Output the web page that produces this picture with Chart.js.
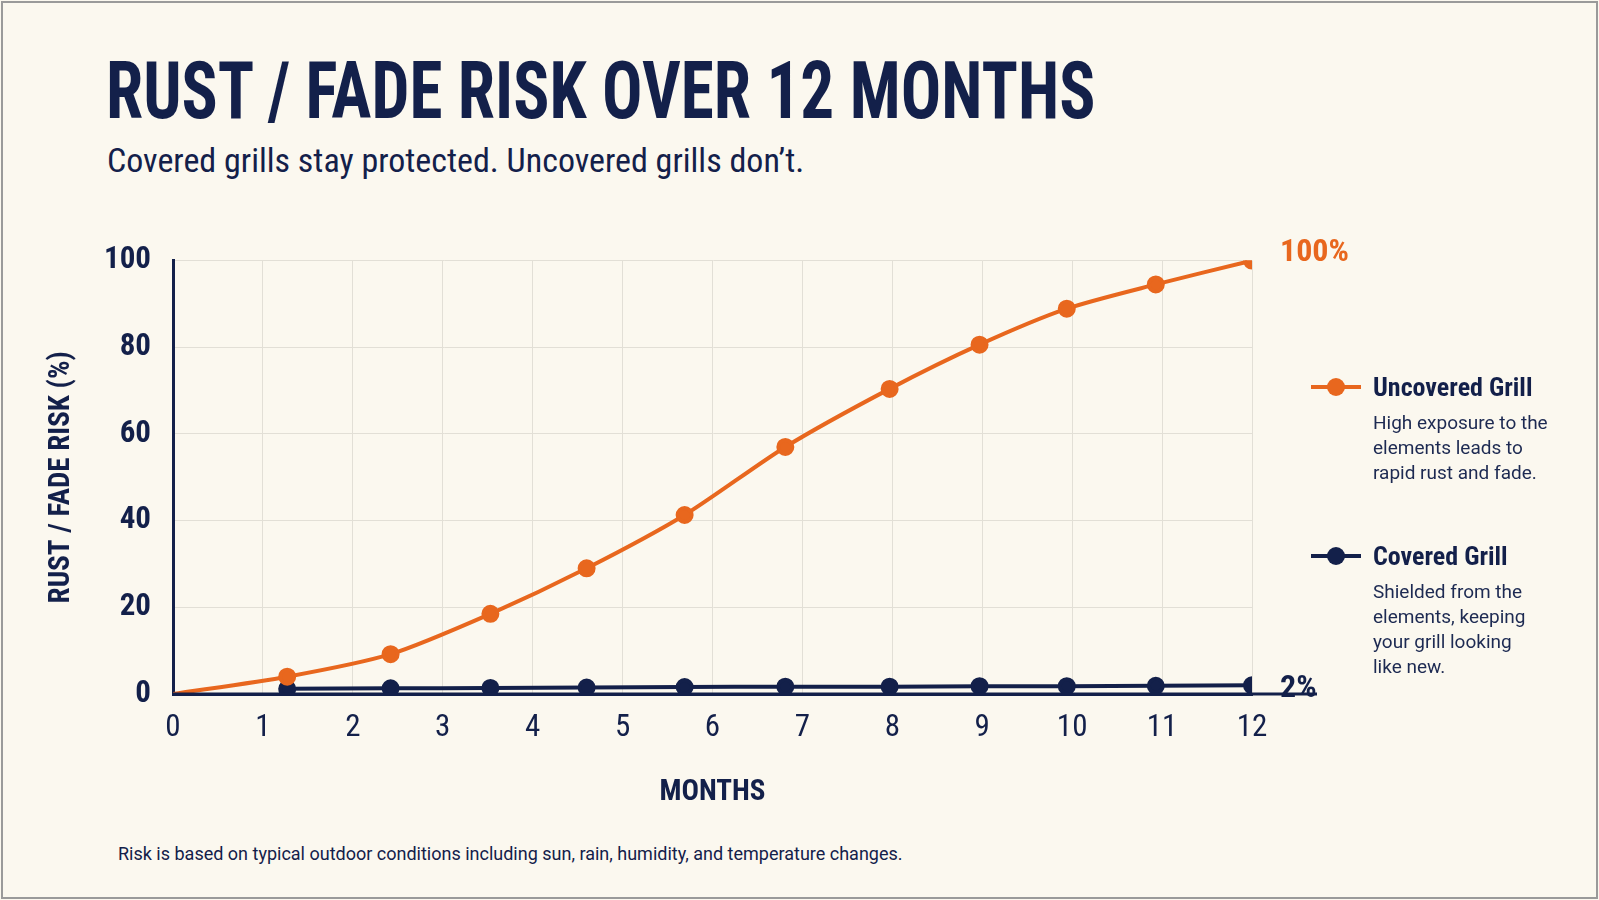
<!DOCTYPE html>
<html>
<head>
<meta charset="utf-8">
<script src="https://cdn.jsdelivr.net/npm/chart.js@4.4.0/dist/chart.umd.min.js"></script>
<style>
  html, body { margin: 0; padding: 0; }
  body { width: 1599px; height: 900px; background: #fbf8ef; position: relative; overflow: hidden;
         font-family: "Roboto Condensed", "Roboto", sans-serif; font-stretch: condensed; color: #13204a; }
  .frame { position: absolute; left: 1px; top: 1px; right: 1px; bottom: 1px; border: 2px solid #9a9a9a; }
  h1 { position: absolute; left: 106px; top: 44px; margin: 0; font-size: 80px; font-weight: bold;
       transform: scaleX(0.84); transform-origin: left top; white-space: nowrap; }
  .sub { position: absolute; left: 107px; top: 140px; font-size: 34px; }
  #wrap { position: absolute; left: 40px; top: 220px; width: 1360px; height: 594px; }
  .leg { position: absolute; left: 1311px; }
  .leg .name { font-size: 26px; font-weight: bold; display: flex; align-items: center; }
  .leg .sw { width: 50px; height: 4px; position: relative; margin-right: 12px; }
  .leg .sw i { position: absolute; left: 16px; top: -7px; width: 18px; height: 18px; border-radius: 50%; }
  .leg .desc { margin-left: 62px; margin-top: 8px; font-size: 19px; line-height: 25px; color: #1d2a52; font-stretch: normal; font-family: "Roboto", sans-serif; }
  .note { position: absolute; left: 118px; top: 843px; font-size: 18px; font-family: "Roboto", sans-serif; font-stretch: normal; }
</style>
</head>
<body>
<div class="frame"></div>
<h1>RUST / FADE RISK OVER 12 MONTHS</h1>
<div class="sub">Covered grills stay protected. Uncovered grills don’t.</div>
<div id="wrap"><canvas id="c"></canvas></div>
<div class="leg" style="top:372px">
  <div class="name"><span class="sw" style="background:#e8671e"><i style="background:#e8671e"></i></span>Uncovered Grill</div>
  <div class="desc">High exposure to the<br>elements leads to<br>rapid rust and fade.</div>
</div>
<div class="leg" style="top:541px">
  <div class="name"><span class="sw" style="background:#13204a"><i style="background:#13204a"></i></span>Covered Grill</div>
  <div class="desc">Shielded from the<br>elements, keeping<br>your grill looking<br>like new.</div>
</div>
<div class="note">Risk is based on typical outdoor conditions including sun, rain, humidity, and temperature changes.</div>
<script>
const uncoveredX = [0, 1.27, 2.42, 3.53, 4.6, 5.69, 6.81, 7.97, 8.97, 9.94, 10.93, 12];
const uncoveredY = [0, 4, 9.2, 18.5, 29, 41.3, 57, 70.4, 80.6, 88.9, 94.5, 100];
const coveredX = [1.27, 2.42, 3.53, 4.6, 5.69, 6.81, 7.97, 8.97, 9.94, 10.93, 12];
const coveredY = [1.2, 1.3, 1.4, 1.5, 1.6, 1.7, 1.7, 1.8, 1.8, 1.9, 2];
const yTicks = [0, 20, 40, 60, 80, 100];
const endLabels = ["100%", "2%"];

const orange = "#e8671e", navy = "#13204a";
const cond = "'Roboto Condensed', 'Roboto', sans-serif";

const endLabelPlugin = {
  id: "endLabels",
  afterDatasetsDraw(chart) {
    const ctx = chart.ctx;
    ctx.save();
    ctx.font = "bold 32px " + cond;
    ctx.textBaseline = "middle";
    chart.data.datasets.forEach((ds, i) => {
      const meta = chart.getDatasetMeta(i);
      const p = meta.data[meta.data.length - 1];
      ctx.fillStyle = ds.borderColor;
      ctx.fillText(endLabels[i], p.x + 28, p.y - (i === 0 ? 8 : -4));
    });
    const a = chart.chartArea;
    ctx.strokeStyle = navy; ctx.lineWidth = 3;
    ctx.beginPath(); ctx.moveTo(a.left, a.bottom); ctx.lineTo(a.right + 65, a.bottom); ctx.stroke();
    ctx.restore();
  }
};

new Chart(document.getElementById("c"), {
  type: "line",
  data: {
    datasets: [
      { label: "Uncovered Grill", data: uncoveredX.map((x, i) => ({ x, y: uncoveredY[i] })),
        borderColor: orange, backgroundColor: orange, borderWidth: 4, tension: 0.25,
        pointRadius: uncoveredX.map(x => x === 0 ? 0 : 7) },
      { label: "Covered Grill", data: coveredX.map((x, i) => ({ x, y: coveredY[i] })),
        borderColor: navy, backgroundColor: navy, borderWidth: 4, tension: 0.25, pointRadius: 7 }
    ]
  },
  options: {
    responsive: true, maintainAspectRatio: false, animation: false,
    layout: { padding: { top: 33, right: 148, left: 0, bottom: 0 } },
    plugins: { legend: { display: false }, tooltip: { enabled: false } },
    scales: {
      x: {
        type: "linear", min: 0, max: 12,
        ticks: { stepSize: 1, color: navy, padding: 16, font: { size: 31, family: cond } },
        grid: { color: "#e2dfd6", drawTicks: false },
        border: { display: true, color: navy, width: 3 },
        title: { display: true, text: "MONTHS", color: navy, padding: { top: 24 },
                 font: { size: 29, weight: "bold", family: cond } },
        afterFit: s => { s.height = 120; }
      },
      y: {
        min: 0, max: 100,
        afterBuildTicks: s => { s.ticks = yTicks.map(v => ({ value: v })); },
        ticks: { color: navy, padding: 22, font: { size: 31, weight: "bold", family: cond } },
        grid: { color: "#e2dfd6", drawTicks: false },
        border: { display: true, color: navy, width: 3 },
        title: { display: true, text: "RUST / FADE RISK (%)", color: navy, padding: { bottom: 10 },
                 font: { size: 29, weight: "bold", family: cond } },
        afterFit: s => { s.width = 133; }
      }
    }
  },
  plugins: [endLabelPlugin]
});
</script>
</body>
</html>
